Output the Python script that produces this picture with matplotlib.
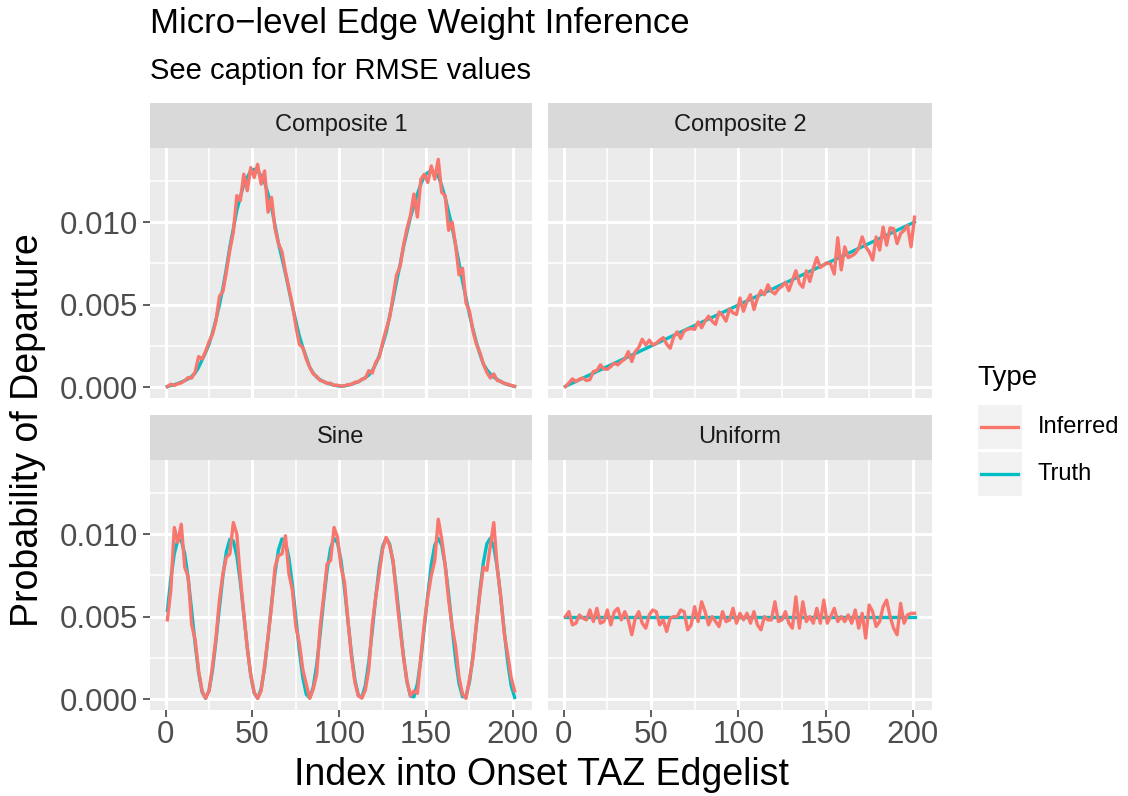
import numpy as np
import matplotlib.pyplot as plt
from matplotlib.lines import Line2D
from matplotlib.patches import Rectangle
from matplotlib.ticker import FormatStrFormatter

plt.rcParams['font.family'] = ['Liberation Sans', 'DejaVu Sans']

# ---- data (probabilities stored in units of 1e-4) ----
UNIT = 1e-4

# inferred series and sine / composite-1 truth are read at every 2nd index
IDX = np.arange(1, 202, 2)

COMP1_TRUTH = [0.4, 1.0, 1.5, 2.2, 3.0, 4.0, 5.0, 6.5, 8.5, 12,
               16.5, 21, 26, 33, 41, 50, 60, 72, 85, 96,
               107, 115, 123, 127, 131, 132, 131, 128, 124, 117,
               109, 98, 87, 78, 69, 59, 49, 40, 31, 24,
               18, 12, 8.5, 6, 4.5, 3.3, 2.4, 1.8, 1.2, 0.8,
               0.5, 0.8, 1.2, 1.8, 2.5, 3.3, 4.5, 5.8, 7.3, 10,
               14, 19, 26, 33, 43, 53, 64, 74, 85, 94,
               103, 110, 117, 123, 128, 130, 131, 130, 128, 122,
               115, 106, 97, 86, 75, 64, 54, 44, 35, 27,
               20, 14, 10.5, 8, 6, 4.7, 3.3, 2.4, 1.5, 1.0,
               0.4]
COMP1_INFERRED = [0.3, 1.8, 1.0, 2.0, 2.6, 3.9, 5.8, 5.5, 9.2, 18.5,
                  17, 21.5, 27.5, 32, 40, 55, 58, 70, 83, 94,
                  116, 113, 129, 119, 133, 127, 135, 123, 131, 106,
                  115, 96, 87, 82, 70, 60, 50, 37, 26, 24,
                  17, 12, 8, 6.5, 4, 3.5, 2.2, 2.4, 1.0, 1.2,
                  0.6, 0.7, 1.6, 1.5, 3.0, 3.1, 4.8, 5.4, 10, 8.5,
                  15, 18, 27, 35, 42, 55, 68, 73, 86, 96,
                  104, 117, 103, 126, 129, 124, 134, 126, 138, 118,
                  116, 95, 100, 86, 68, 72, 51, 46, 34, 26,
                  21, 14, 9, 5.5, 8, 4, 3.6, 2.2, 1.8, 1.0,
                  0.5]

COMP2_TRUTH_X = [1, 51, 101, 151, 201]
COMP2_TRUTH = [0.5, 25.4, 50.2, 75.1, 100.0]
COMP2_INFERRED = [0.4, 2.5, 5.0, 3.3, 4.8, 5.5, 4.0, 4.5, 9.5, 10.0,
                  13.5, 11.0, 10.8, 12.5, 14.5, 13.5, 15.5, 17.0, 21.5, 15.5,
                  21.5, 24.0, 29.0, 25.5, 28.5, 25.5, 26.5, 28.5, 30.0, 26.0,
                  23.5, 30.5, 33.5, 29.5, 34.0, 35.0, 35.5, 35.0, 39.5, 36.0,
                  40.0, 43.0, 40.0, 38.0, 45.5, 43.5, 40.0, 47.5, 45.0, 44.0,
                  54.0, 46.0, 52.0, 56.0, 47.0, 54.0, 58.5, 56.0, 62.0, 58.0,
                  56.5, 59.5, 61.0, 63.5, 58.5, 64.5, 70.5, 63.0, 60.5, 70.5,
                  64.0, 72.0, 78.5, 72.5, 74.0, 75.5, 74.5, 68.5, 90.5, 71.0,
                  85.0, 78.5, 79.5, 81.0, 84.0, 91.0, 85.0, 82.0, 77.0, 91.0,
                  83.0, 97.0, 86.0, 96.5, 96.0, 87.0, 93.0, 95.0, 98.0, 85.0,
                  103.0]

SINE_TRUTH = [53.6, 73.0, 88.1, 96.4, 96.4, 88.1, 73.0, 53.6, 33.4, 16.0,
              4.3, 0.5, 5.2, 17.6, 35.5, 55.6, 74.8, 89.4, 96.8, 95.9,
              86.8, 71.1, 51.5, 31.4, 14.5, 3.6, 0.6, 6.1, 19.2, 37.5,
              57.8, 76.5, 90.5, 97.1, 95.4, 85.5, 69.2, 49.4, 29.5, 13.0,
              2.9, 0.8, 7.2, 20.8, 39.5, 59.8, 78.2, 91.5, 97.4, 94.7,
              84.1, 67.3, 47.3, 27.7, 11.7, 2.3, 1.0, 8.2, 22.5, 41.5,
              61.7, 79.8, 92.5, 97.5, 94.0, 82.7, 65.4, 45.3, 25.9, 10.4,
              1.8, 1.4, 9.4, 24.2, 43.5, 63.6, 81.3, 93.3, 97.5, 93.2,
              81.2, 63.5, 43.3, 24.1, 9.2, 1.4, 1.8, 10.5, 26.0, 45.5,
              65.6, 82.8, 94.1, 97.5, 92.3, 79.7, 61.6, 41.2, 22.4, 8.1,
              1.0]
SINE_INFERRED = [48, 66, 104, 95, 106, 80, 74, 45, 36, 17,
                 5, 0.5, 5, 20, 37, 60, 76, 86, 88, 107,
                 100, 74, 52, 31, 15, 4, 0.4, 5, 20, 38,
                 56, 80, 87, 88, 99, 76, 66, 44, 34, 18,
                 9, 0.5, 6, 15, 44, 62, 82, 84, 104, 98,
                 80, 71, 48, 26, 10, 2, 0.6, 5.5, 18, 45,
                 62, 76, 91, 98, 93, 84, 62, 43, 25, 11,
                 2, 5, 3.5, 26, 46, 62, 75, 84, 109, 97,
                 81, 60, 44, 32, 13, 3, 0.5, 12, 25, 46,
                 64, 80, 78, 93, 107, 79, 62, 40, 27, 13,
                 5]

UNIF_TRUTH_X = [1, 51, 101, 151, 201]
UNIF_TRUTH = [50, 50, 50, 50, 50]
UNIF_INFERRED = [50, 53, 45, 46, 51, 49, 48, 54, 47, 55,
                 46, 47, 54, 45, 53, 55, 48, 53, 48, 39,
                 49, 53, 46, 43, 51, 54, 53, 45, 48, 41,
                 49, 50, 50, 54, 53, 42, 45, 56, 47, 59,
                 53, 45, 50, 47, 44, 53, 47, 48, 55, 46,
                 52, 48, 52, 46, 53, 45, 42, 50, 48, 48,
                 59, 47, 48, 53, 46, 43, 62, 43, 59, 47,
                 50, 46, 55, 46, 60, 46, 50, 55, 47, 50,
                 47, 51, 46, 54, 43, 52, 37, 57, 53, 44,
                 47, 56, 60, 50, 43, 39, 58, 46, 51, 52,
                 52]

PANELS = ["Composite 1", "Composite 2", "Sine", "Uniform"]
TRUTH_X = [IDX, COMP2_TRUTH_X, IDX, UNIF_TRUTH_X]
TRUTH_Y = [COMP1_TRUTH, COMP2_TRUTH, SINE_TRUTH, UNIF_TRUTH]
INFERRED_Y = [COMP1_INFERRED, COMP2_INFERRED, SINE_INFERRED, UNIF_INFERRED]

X_TICKS = [0, 50, 100, 150, 200]
Y_TICKS = [0.0, 0.005, 0.010]

COL_INF = '#F8766D'
COL_TRUTH = '#00BFC4'

# ---- layout (pixel boxes on a 1128x796 canvas) ----
W, H = 1128, 796
fig = plt.figure(figsize=(W / 100, H / 100), dpi=100)


def box(l, t, r, b):
    return [l / W, 1 - b / H, (r - l) / W, (b - t) / H]


PANEL_PX = [(150, 148, 532, 398), (548, 148, 932, 398),
            (150, 460, 532, 710), (548, 460, 932, 710)]
STRIP_H = 45

# shared y scale like facet_wrap fixed scales (5% expansion)
all_vals = np.concatenate([np.asarray(v, float) for v in TRUTH_Y + INFERRED_Y]) * UNIT
lo, hi = all_vals.min(), all_vals.max()
pad = 0.05 * (hi - lo)

for i, name in enumerate(PANELS):
    l, t, r, b = PANEL_PX[i]
    ax = fig.add_axes(box(l, t, r, b))
    ax.set_facecolor('#EBEBEB')
    for s in ax.spines.values():
        s.set_visible(False)

    ax.plot(TRUTH_X[i], np.asarray(TRUTH_Y[i]) * UNIT, color=COL_TRUTH, lw=2.4, zorder=3)
    ax.plot(IDX, np.asarray(INFERRED_Y[i]) * UNIT, color=COL_INF, lw=2.4, zorder=4)

    ax.set_xlim(-9, 211)
    ax.set_ylim(lo - pad, hi + pad)
    ax.set_xticks(X_TICKS)
    ax.set_xticks([25, 75, 125, 175], minor=True)
    ax.set_yticks(Y_TICKS)
    ax.set_yticks([0.0025, 0.0075, 0.0125], minor=True)
    ax.yaxis.set_major_formatter(FormatStrFormatter('%.3f'))
    ax.set_axisbelow(True)
    ax.grid(which='major', color='white', lw=2.2)
    ax.grid(which='minor', color='white', lw=1.1)
    ax.tick_params(which='minor', length=0)
    ax.tick_params(which='major', length=5, width=1.1, color='#333333',
                   labelsize=22.5, labelcolor='#4D4D4D')
    ax.tick_params(axis='y', pad=3.5)
    ax.tick_params(axis='x', pad=2)
    if i < 2:
        ax.tick_params(axis='x', length=0, labelbottom=False)
    if i % 2 == 1:
        ax.tick_params(axis='y', length=0, labelleft=False)

    sax = fig.add_axes(box(l, t - STRIP_H, r, t))
    sax.set_facecolor('#D9D9D9')
    sax.set_xticks([])
    sax.set_yticks([])
    for s in sax.spines.values():
        s.set_visible(False)
    sax.text(0.5, 0.5, name, ha='center', va='center', fontsize=17,
             color='#1A1A1A', transform=sax.transAxes)

# titles
fig.text(150 / W, 1 - 24 / H, "Micro\u2212level Edge Weight Inference",
         fontsize=25, ha='left', va='center')
fig.text(150 / W, 1 - 71 / H, "See caption for RMSE values",
         fontsize=21, ha='left', va='center')
fig.text(541 / W, 1 - 775 / H, "Index into Onset TAZ Edgelist",
         fontsize=27, ha='center', va='center')
fig.text(28 / W, 1 - 430 / H, "Probability of Departure",
         fontsize=27, ha='center', va='center', rotation=90)

# legend
fig.text(977 / W, 1 - 378 / H, "Type", fontsize=20, ha='left', va='center')
for j, (lab, col) in enumerate([("Inferred", COL_INF), ("Truth", COL_TRUTH)]):
    top = 405 + j * 47
    fig.patches.append(Rectangle((978 / W, 1 - (top + 44) / H), 44 / W, 44 / H,
                                 transform=fig.transFigure, facecolor='#F2F2F2',
                                 edgecolor='none'))
    yc = 1 - (top + 22) / H
    fig.lines.append(Line2D([981 / W, 1018 / W], [yc, yc], transform=fig.transFigure,
                            color=col, lw=2.4))
    fig.text(1038 / W, yc, lab, fontsize=17, ha='left', va='center')

fig.savefig("out.png", dpi=100)
